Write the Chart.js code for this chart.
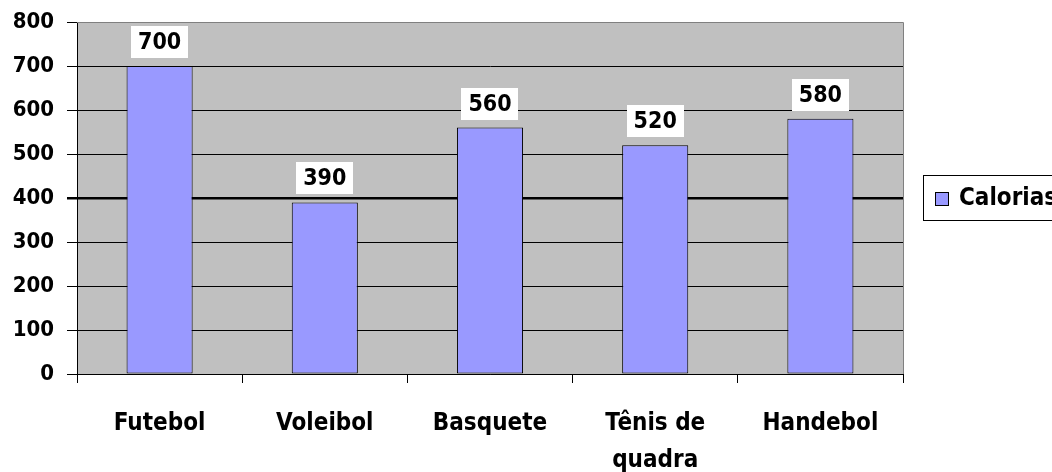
<!DOCTYPE html>
<html>
<head>
<meta charset="utf-8">
<script src="https://cdn.jsdelivr.net/npm/chart.js@4"></script>
<style>
html,body{margin:0;padding:0;background:#fff;overflow:hidden;}
#wrap{width:1052px;height:472px;position:relative;}
</style>
</head>
<body>
<div id="wrap"><canvas id="c" width="1052" height="472"></canvas></div>
<script>
const categories = ['Futebol', 'Voleibol', 'Basquete', ['Tênis de', 'quadra'], 'Handebol'];
const calorias = [700, 390, 560, 520, 580];
const seriesName = 'Calorias';
const yTicks = [0, 100, 200, 300, 400, 500, 600, 700, 800];

const FONT = '"DejaVu Sans Condensed", "DejaVu Sans", sans-serif';
const BAR_COLOR = '#9999FF';

const plotBg = {
  id: 'plotBg',
  beforeDraw(chart) {
    const {ctx, chartArea: a} = chart;
    ctx.save();
    ctx.fillStyle = '#C0C0C0';
    ctx.fillRect(a.left, a.top, a.right - a.left, a.bottom - a.top);
    ctx.restore();
  },
  afterDraw(chart) {
    const {ctx, chartArea: a} = chart;
    ctx.save();
    ctx.strokeStyle = '#808080';
    ctx.lineWidth = 1;
    ctx.beginPath();
    ctx.moveTo(a.left, a.top + 0.5);
    ctx.lineTo(a.right + 0.5, a.top + 0.5);
    ctx.lineTo(a.right + 0.5, a.bottom);
    ctx.stroke();
    ctx.restore();
  }
};

const dataLabels = {
  id: 'dataLabels',
  afterDatasetsDraw(chart) {
    const {ctx} = chart;
    const meta = chart.getDatasetMeta(0);
    const ds = chart.data.datasets[0];
    ctx.save();
    ctx.font = 'bold 23px ' + FONT;
    ctx.textAlign = 'center';
    ctx.textBaseline = 'middle';
    meta.data.forEach((bar, i) => {
      const txt = String(ds.data[i]);
      const w = ctx.measureText(txt).width + 14;
      const h = 32;
      const bx = Math.round(bar.x - w / 2);
      const by = Math.round(bar.y - 8 - h);
      ctx.fillStyle = '#ffffff';
      ctx.fillRect(bx, by, Math.round(w), h);
      ctx.fillStyle = '#000000';
      ctx.fillText(txt, bar.x, by + h / 2 + 1);
    });
    ctx.restore();
  }
};

const sideLegend = {
  id: 'sideLegend',
  afterDraw(chart) {
    const {ctx} = chart;
    const ds = chart.data.datasets[0];
    ctx.save();
    ctx.fillStyle = '#ffffff';
    ctx.fillRect(923, 175, 200, 45);
    ctx.strokeStyle = '#000000';
    ctx.lineWidth = 1;
    ctx.strokeRect(923.5, 175.5, 200, 45);
    ctx.fillStyle = ds.backgroundColor;
    ctx.fillRect(935, 192, 14, 14);
    ctx.strokeRect(935.5, 192.5, 13, 13);
    ctx.fillStyle = '#000000';
    ctx.font = 'bold 24px ' + FONT;
    ctx.textAlign = 'left';
    ctx.textBaseline = 'middle';
    ctx.fillText(ds.label, 959, 199);
    ctx.restore();
  }
};

new Chart(document.getElementById('c'), {
  type: 'bar',
  data: {
    labels: categories,
    datasets: [{
      label: seriesName,
      data: calorias,
      backgroundColor: BAR_COLOR,
      borderColor: '#000000',
      borderWidth: 1,
      borderSkipped: false,
      categoryPercentage: 1.0,
      barPercentage: 0.4
    }]
  },
  options: {
    responsive: false,
    animation: false,
    events: [],
    layout: { padding: { top: 22, right: 149, left: 0, bottom: 0 } },
    plugins: { legend: { display: false }, tooltip: { enabled: false } },
    scales: {
      x: {
        offset: true,
        grid: { offset: true, drawOnChartArea: false, tickLength: 9, color: '#000000', tickColor: '#000000' },
        border: { color: '#000000', width: 1 },
        ticks: { color: '#000000', padding: 22, font: { family: FONT, size: 24, weight: 'bold', lineHeight: 1.55 } },
        afterFit(scale) { scale.height = 98; scale.paddingLeft = 0; scale.paddingRight = 0; }
      },
      y: {
        min: 0, max: 800,
        afterBuildTicks(scale) { scale.ticks = yTicks.map(v => ({ value: v })); },
        grid: {
          tickLength: 10,
          color: (c) => (c.tick && c.tick.value === 800) ? '#808080' : '#000000',
          tickColor: '#000000',
          lineWidth: (c) => (c.tick && c.tick.value === 400) ? 2.5 : 1
        },
        border: { color: '#000000', width: 1 },
        ticks: { color: '#000000', padding: 13, font: { family: FONT, size: 22, weight: 'bold' } },
        afterFit(scale) { scale.width = 77; scale.paddingTop = 0; scale.paddingBottom = 0; }
      }
    }
  },
  plugins: [plotBg, dataLabels, sideLegend]
});
</script>
</body>
</html>
